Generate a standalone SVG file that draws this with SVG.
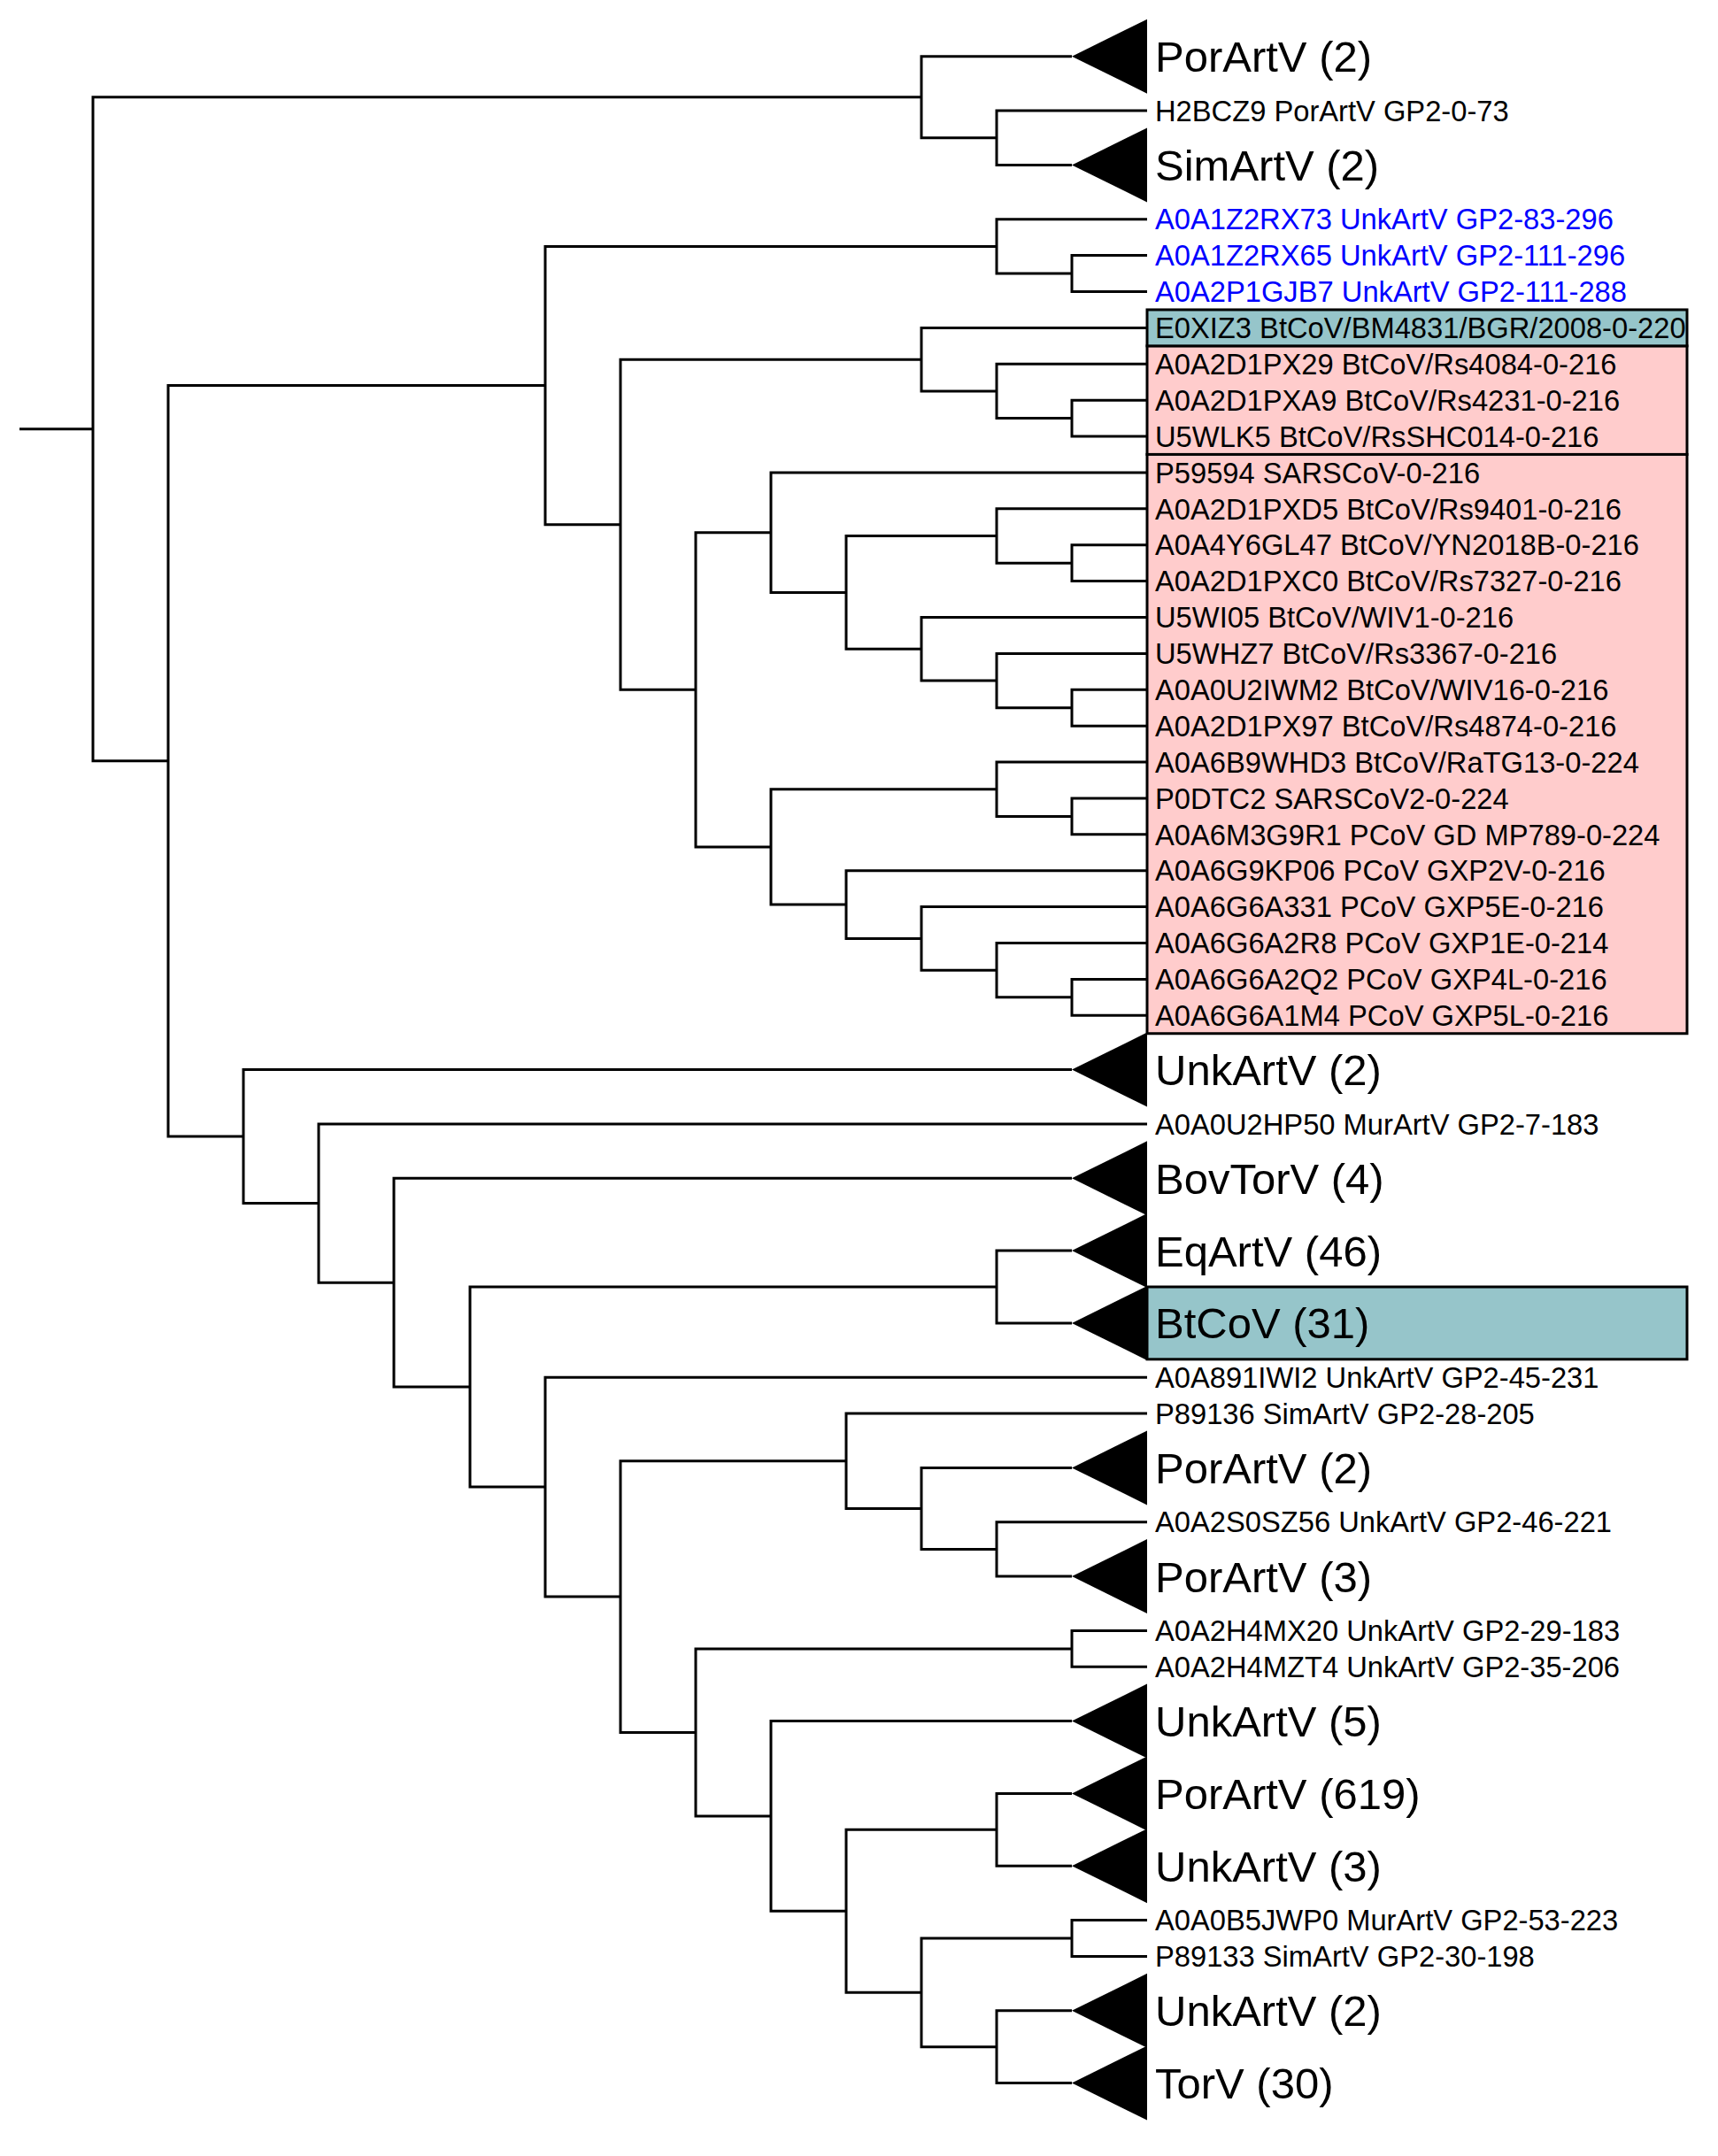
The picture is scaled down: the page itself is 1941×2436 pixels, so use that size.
<svg xmlns="http://www.w3.org/2000/svg" width="1941" height="2436" viewBox="0 0 1941 2436">
<style>
.l{fill:none;stroke:#000;stroke-width:3}
.tri{fill:#000}
text{font-family:"Liberation Sans",Arial,sans-serif;fill:#000}
.s{font-size:32.7px}
.b{font-size:49px}
.blue{fill:#0000ff}
.teal{fill:#96c5ca;stroke:#000;stroke-width:3}
.pink{fill:#ffcccc;stroke:#000;stroke-width:3}
</style>
<rect width="1941" height="2436" fill="#fff"/>
<g id="highlights">
<rect class="pink" x="1296" y="390.85" width="610" height="122.6"/>
<rect class="pink" x="1296" y="513.45" width="610" height="654.3"/>
<rect class="teal" x="1296" y="349.95" width="610" height="40.9"/>
<rect class="teal" x="1296" y="1454" width="610" height="81.8"/>
</g>
<g id="connectors" class="l">
<path d="M22 484.7H105"/>
<path d="M1041 109.7H105V859.8H190"/>
<path d="M1211 63.7H1041V155.7H1126"/>
<path d="M1296 125H1126V186.4H1211"/>
<path d="M616 435.5H190V1284.1H275"/>
<path d="M1126 278.4H616V592.7H701"/>
<path d="M1296 247.7H1126V309H1211"/>
<path d="M1296 288.6H1211V329.5H1296"/>
<path d="M1041 406.2H701V779.3H786"/>
<path d="M1296 370.4H1041V441.9H1126"/>
<path d="M1296 411.3H1126V472.6H1211"/>
<path d="M1296 452.2H1211V493H1296"/>
<path d="M871 601.7H786V956.9H871"/>
<path d="M1296 533.9H871V669.4H956"/>
<path d="M1126 605.5H956V733.3H1041"/>
<path d="M1296 574.8H1126V636.2H1211"/>
<path d="M1296 615.7H1211V656.6H1296"/>
<path d="M1296 697.5H1041V769.1H1126"/>
<path d="M1296 738.4H1126V799.7H1211"/>
<path d="M1296 779.3H1211V820.2H1296"/>
<path d="M1126 891.7H871V1022.1H956"/>
<path d="M1296 861.1H1126V922.4H1211"/>
<path d="M1296 902H1211V942.8H1296"/>
<path d="M1296 983.7H956V1060.4H1041"/>
<path d="M1296 1024.6H1041V1096.2H1126"/>
<path d="M1296 1065.5H1126V1126.8H1211"/>
<path d="M1296 1106.4H1211V1147.3H1296"/>
<path d="M1211 1208.6H275V1359.6H360"/>
<path d="M1296 1270H360V1449.2H445"/>
<path d="M1211 1331.3H445V1567H531"/>
<path d="M1126 1454H531V1680.1H616"/>
<path d="M1211 1413.1H1126V1494.9H1211"/>
<path d="M1296 1556.2H616V1804.1H701"/>
<path d="M956 1650.7H701V1957.4H786"/>
<path d="M1296 1597.1H956V1704.4H1041"/>
<path d="M1211 1658.4H1041V1750.4H1126"/>
<path d="M1296 1719.7H1126V1781.1H1211"/>
<path d="M1211 1862.9H786V2052H871"/>
<path d="M1296 1842.4H1211V1883.3H1296"/>
<path d="M1211 1944.6H871V2159.3H956"/>
<path d="M1126 2067.3H956V2251.3H1041"/>
<path d="M1211 2026.4H1126V2108.2H1211"/>
<path d="M1211 2190H1041V2312.7H1126"/>
<path d="M1296 2169.5H1211V2210.4H1296"/>
<path d="M1211 2271.8H1126V2353.5H1211"/>
</g>
<g id="n-porartv2a"><polygon class="tri" points="1211,63.7 1296,21.7 1296,105.7"/><text class="b" x="1305" y="81.2">PorArtV (2)</text></g>
<g id="n-h2bcz9"><text class="s" x="1305" y="136.7">H2BCZ9 PorArtV GP2-0-73</text></g>
<g id="n-simartv2"><polygon class="tri" points="1211,186.4 1296,144.4 1296,228.4"/><text class="b" x="1305" y="203.9">SimArtV (2)</text></g>
<g id="n-rx73"><text class="s blue" x="1305" y="259.4">A0A1Z2RX73 UnkArtV GP2-83-296</text></g>
<g id="n-rx65"><text class="s blue" x="1305" y="300.3">A0A1Z2RX65 UnkArtV GP2-111-296</text></g>
<g id="n-gjb7"><text class="s blue" x="1305" y="341.2">A0A2P1GJB7 UnkArtV GP2-111-288</text></g>
<g id="n-e0xiz3"><text class="s" x="1305" y="382.1">E0XIZ3 BtCoV/BM4831/BGR/2008-0-220</text></g>
<g id="n-px29"><text class="s" x="1305" y="423">A0A2D1PX29 BtCoV/Rs4084-0-216</text></g>
<g id="n-pxa9"><text class="s" x="1305" y="463.9">A0A2D1PXA9 BtCoV/Rs4231-0-216</text></g>
<g id="n-u5wlk5"><text class="s" x="1305" y="504.7">U5WLK5 BtCoV/RsSHC014-0-216</text></g>
<g id="n-p59594"><text class="s" x="1305" y="545.6">P59594 SARSCoV-0-216</text></g>
<g id="n-pxd5"><text class="s" x="1305" y="586.5">A0A2D1PXD5 BtCoV/Rs9401-0-216</text></g>
<g id="n-gl47"><text class="s" x="1305" y="627.4">A0A4Y6GL47 BtCoV/YN2018B-0-216</text></g>
<g id="n-pxc0"><text class="s" x="1305" y="668.3">A0A2D1PXC0 BtCoV/Rs7327-0-216</text></g>
<g id="n-u5wi05"><text class="s" x="1305" y="709.2">U5WI05 BtCoV/WIV1-0-216</text></g>
<g id="n-u5whz7"><text class="s" x="1305" y="750.1">U5WHZ7 BtCoV/Rs3367-0-216</text></g>
<g id="n-iwm2"><text class="s" x="1305" y="791">A0A0U2IWM2 BtCoV/WIV16-0-216</text></g>
<g id="n-px97"><text class="s" x="1305" y="831.9">A0A2D1PX97 BtCoV/Rs4874-0-216</text></g>
<g id="n-whd3"><text class="s" x="1305" y="872.8">A0A6B9WHD3 BtCoV/RaTG13-0-224</text></g>
<g id="n-p0dtc2"><text class="s" x="1305" y="913.7">P0DTC2 SARSCoV2-0-224</text></g>
<g id="n-m3g9r1"><text class="s" x="1305" y="954.5">A0A6M3G9R1 PCoV GD MP789-0-224</text></g>
<g id="n-kp06"><text class="s" x="1305" y="995.4">A0A6G9KP06 PCoV GXP2V-0-216</text></g>
<g id="n-a331"><text class="s" x="1305" y="1036.3">A0A6G6A331 PCoV GXP5E-0-216</text></g>
<g id="n-a2r8"><text class="s" x="1305" y="1077.2">A0A6G6A2R8 PCoV GXP1E-0-214</text></g>
<g id="n-a2q2"><text class="s" x="1305" y="1118.1">A0A6G6A2Q2 PCoV GXP4L-0-216</text></g>
<g id="n-a1m4"><text class="s" x="1305" y="1159">A0A6G6A1M4 PCoV GXP5L-0-216</text></g>
<g id="n-unkartv2a"><polygon class="tri" points="1211,1208.6 1296,1166.6 1296,1250.6"/><text class="b" x="1305" y="1226.1">UnkArtV (2)</text></g>
<g id="n-hp50"><text class="s" x="1305" y="1281.7">A0A0U2HP50 MurArtV GP2-7-183</text></g>
<g id="n-bovtorv"><polygon class="tri" points="1211,1331.3 1296,1289.3 1296,1373.3"/><text class="b" x="1305" y="1348.8">BovTorV (4)</text></g>
<g id="n-eqartv"><polygon class="tri" points="1211,1413.1 1296,1371.1 1296,1455.1"/><text class="b" x="1305" y="1430.6">EqArtV (46)</text></g>
<g id="n-btcov"><polygon class="tri" points="1211,1494.9 1296,1452.9 1296,1536.9"/><text class="b" x="1305" y="1512.4">BtCoV (31)</text></g>
<g id="n-iwi2"><text class="s" x="1305" y="1567.9">A0A891IWI2 UnkArtV GP2-45-231</text></g>
<g id="n-p89136"><text class="s" x="1305" y="1608.8">P89136 SimArtV GP2-28-205</text></g>
<g id="n-porartv2b"><polygon class="tri" points="1211,1658.4 1296,1616.4 1296,1700.4"/><text class="b" x="1305" y="1675.9">PorArtV (2)</text></g>
<g id="n-sz56"><text class="s" x="1305" y="1731.4">A0A2S0SZ56 UnkArtV GP2-46-221</text></g>
<g id="n-porartv3"><polygon class="tri" points="1211,1781.1 1296,1739.1 1296,1823.1"/><text class="b" x="1305" y="1798.6">PorArtV (3)</text></g>
<g id="n-mx20"><text class="s" x="1305" y="1854.1">A0A2H4MX20 UnkArtV GP2-29-183</text></g>
<g id="n-mzt4"><text class="s" x="1305" y="1895">A0A2H4MZT4 UnkArtV GP2-35-206</text></g>
<g id="n-unkartv5"><polygon class="tri" points="1211,1944.6 1296,1902.6 1296,1986.6"/><text class="b" x="1305" y="1962.1">UnkArtV (5)</text></g>
<g id="n-porartv619"><polygon class="tri" points="1211,2026.4 1296,1984.4 1296,2068.4"/><text class="b" x="1305" y="2043.9">PorArtV (619)</text></g>
<g id="n-unkartv3"><polygon class="tri" points="1211,2108.2 1296,2066.2 1296,2150.2"/><text class="b" x="1305" y="2125.7">UnkArtV (3)</text></g>
<g id="n-jwp0"><text class="s" x="1305" y="2181.2">A0A0B5JWP0 MurArtV GP2-53-223</text></g>
<g id="n-p89133"><text class="s" x="1305" y="2222.1">P89133 SimArtV GP2-30-198</text></g>
<g id="n-unkartv2b"><polygon class="tri" points="1211,2271.8 1296,2229.8 1296,2313.8"/><text class="b" x="1305" y="2289.3">UnkArtV (2)</text></g>
<g id="n-torv"><polygon class="tri" points="1211,2353.5 1296,2311.5 1296,2395.5"/><text class="b" x="1305" y="2371">TorV (30)</text></g>
</svg>
